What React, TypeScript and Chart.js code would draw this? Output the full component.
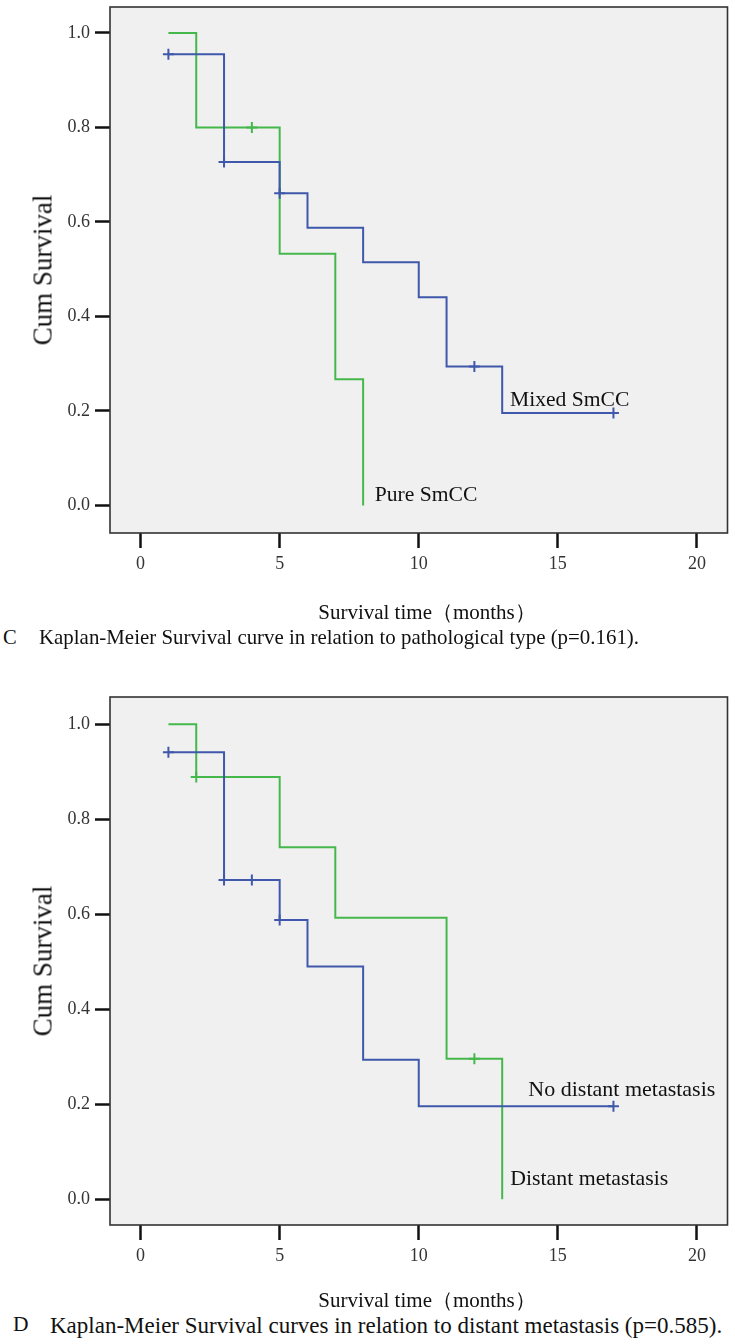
import React, { useEffect, useRef } from "react";
import { Chart, registerables } from "chart.js";

Chart.register(...registerables);

// ---------- shared axis values ----------
const X_TICKS = [0, 5, 10, 15, 20];
const Y_TICKS = [0, 0.2, 0.4, 0.6, 0.8, 1.0];
const X_MIN = -1.1;
const X_MAX = 21.1;

// ---------- Panel C: pathological type ----------
const C_MIXED_TIME = [1, 3, 5, 6, 8, 10, 11, 13, 17];
const C_MIXED_SURV = [0.955, 0.727, 0.661, 0.588, 0.515, 0.441, 0.294, 0.196, 0.196];
const C_MIXED_CENS_TIME = [1, 3, 5, 12, 17];
const C_MIXED_CENS_SURV = [0.955, 0.727, 0.661, 0.294, 0.196];

const C_PURE_TIME = [1, 2, 5, 7, 8];
const C_PURE_SURV = [1.0, 0.8, 0.533, 0.267, 0.0];
const C_PURE_CENS_TIME = [4];
const C_PURE_CENS_SURV = [0.8];

// ---------- Panel D: distant metastasis ----------
const D_NO_TIME = [1, 3, 5, 6, 8, 10, 17];
const D_NO_SURV = [0.941, 0.672, 0.588, 0.49, 0.294, 0.196, 0.196];
const D_NO_CENS_TIME = [1, 3, 4, 5, 17];
const D_NO_CENS_SURV = [0.941, 0.672, 0.672, 0.588, 0.196];

const D_DIST_TIME = [1, 2, 5, 7, 11, 13];
const D_DIST_SURV = [1.0, 0.889, 0.741, 0.593, 0.296, 0.0];
const D_DIST_CENS_TIME = [2, 12];
const D_DIST_CENS_SURV = [0.889, 0.296];

// ---------- text ----------
const Y_TITLE = "Cum Survival";
const X_TITLE = "Survival time（months）";
const C_LETTER = "C";
const C_CAPTION = "Kaplan-Meier Survival curve in relation to pathological type (p=0.161).";
const D_LETTER = "D";
const D_CAPTION = "Kaplan-Meier Survival curves in relation to distant metastasis (p=0.585).";

const BLUE = "#3F58AB";
const GREEN = "#45B84B";
const SERIF = '"Liberation Serif", "Times New Roman", serif';

type Series = { time: number[]; surv: number[]; censT: number[]; censS: number[]; color: string };
type InlineLabel = { text: string; x: number; y: number; size: number };

type PanelProps = {
  series: Series[];
  labels: InlineLabel[];
  canvasTop: number;
  boxTop: number;
  boxBottom: number;
  y1px: number;
  y0px: number;
};

const BOX_LEFT = 110;
const BOX_RIGHT = 731;
const PAGE_W = 735;
const X_AXIS_H = 67;

function KMPanel({ series, labels, canvasTop, boxTop, boxBottom, y1px, y0px }: PanelProps) {
  const ref = useRef<HTMLCanvasElement | null>(null);
  const height = boxBottom - canvasTop + X_AXIS_H;

  useEffect(() => {
    if (!ref.current) return;
    const unit = y0px - y1px;
    const yMax = 1 + (y1px - boxTop) / unit;
    const yMin = -(boxBottom - y0px) / unit;

    const datasets: any[] = [];
    series.forEach((s) => {
      datasets.push({
        type: "line",
        data: s.time.map((t, i) => ({ x: t, y: s.surv[i] })),
        borderColor: s.color,
        borderWidth: 2,
        stepped: "before",
        pointRadius: 0,
        fill: false,
      });
      datasets.push({
        type: "line",
        data: s.censT.map((t, i) => ({ x: t, y: s.censS[i] })),
        showLine: false,
        pointStyle: "cross",
        pointRadius: 5.5,
        pointBorderWidth: 2,
        pointBorderColor: s.color,
        pointBackgroundColor: s.color,
      });
    });

    const boxPlugin = {
      id: "box",
      beforeDraw(chart: any) {
        const { ctx, chartArea: a } = chart;
        ctx.save();
        ctx.fillStyle = "#F0F0F0";
        ctx.fillRect(a.left, a.top, a.right - a.left, a.bottom - a.top);
        ctx.restore();
      },
      afterDraw(chart: any) {
        const { ctx, chartArea: a, scales } = chart;
        ctx.save();
        ctx.strokeStyle = "#333";
        ctx.lineWidth = 1.6;
        ctx.strokeRect(a.left, a.top, a.right - a.left, a.bottom - a.top);
        ctx.fillStyle = "#111";
        ctx.textAlign = "left";
        ctx.textBaseline = "middle";
        labels.forEach((l) => {
          ctx.font = `${l.size}px ${SERIF}`;
          ctx.fillText(l.text, scales.x.getPixelForValue(l.x), scales.y.getPixelForValue(l.y));
        });
        ctx.restore();
      },
    };

    const tickFont = { family: SERIF, size: 18 };
    const chart = new Chart(ref.current, {
      type: "line",
      data: { datasets },
      options: {
        animation: false,
        responsive: false,
        maintainAspectRatio: false,
        layout: { padding: { top: boxTop - canvasTop, right: PAGE_W - BOX_RIGHT, left: 0, bottom: 0 } },
        plugins: { legend: { display: false }, tooltip: { enabled: false } },
        scales: {
          x: {
            type: "linear",
            min: X_MIN,
            max: X_MAX,
            afterFit: (s: any) => {
              s.height = X_AXIS_H;
            },
            afterBuildTicks: (s: any) => {
              s.ticks = X_TICKS.map((v) => ({ value: v }));
            },
            grid: { drawOnChartArea: false, drawTicks: true, tickLength: 15, tickColor: "#111", tickWidth: 2.5 },
            border: { display: false },
            ticks: {
              padding: 5,
              font: tickFont,
              color: "#333",
              maxRotation: 0,
              autoSkip: false,
              callback: (v: any) => String(v),
            },
          },
          y: {
            type: "linear",
            min: yMin,
            max: yMax,
            afterFit: (s: any) => {
              s.width = BOX_LEFT;
            },
            afterBuildTicks: (s: any) => {
              s.ticks = Y_TICKS.map((v) => ({ value: v }));
            },
            grid: { drawOnChartArea: false, drawTicks: true, tickLength: 15, tickColor: "#111", tickWidth: 2.5 },
            border: { display: false },
            ticks: {
              padding: 5,
              font: tickFont,
              color: "#333",
              autoSkip: false,
              callback: (v: any) => Number(v).toFixed(1),
            },
          },
        },
      } as any,
      plugins: [boxPlugin],
    });
    return () => chart.destroy();
  }, []);

  return (
    <canvas
      ref={ref}
      width={PAGE_W}
      height={height}
      style={{ position: "absolute", left: 0, top: canvasTop, width: PAGE_W, height }}
    />
  );
}

function Text({ x, y, size, children, anchor = "left", rotate = false }: any) {
  const style: any = {
    position: "absolute",
    left: x,
    top: y,
    fontFamily: SERIF,
    fontSize: size,
    lineHeight: 1,
    color: "#111",
    whiteSpace: "nowrap",
  };
  if (rotate) {
    style.transform = "translate(-50%, -50%) rotate(-90deg)";
  } else if (anchor === "center") {
    style.transform = "translate(-50%, -50%)";
  } else {
    style.transform = "translate(0, -50%)";
  }
  return <div style={style}>{children}</div>;
}

export default function App() {
  useEffect(() => {
    document.body.style.margin = "0";
    document.body.style.background = "#fff";
  }, []);

  const cSeries: Series[] = [
    { time: C_MIXED_TIME, surv: C_MIXED_SURV, censT: C_MIXED_CENS_TIME, censS: C_MIXED_CENS_SURV, color: BLUE },
    { time: C_PURE_TIME, surv: C_PURE_SURV, censT: C_PURE_CENS_TIME, censS: C_PURE_CENS_SURV, color: GREEN },
  ];
  const dSeries: Series[] = [
    { time: D_NO_TIME, surv: D_NO_SURV, censT: D_NO_CENS_TIME, censS: D_NO_CENS_SURV, color: BLUE },
    { time: D_DIST_TIME, surv: D_DIST_SURV, censT: D_DIST_CENS_TIME, censS: D_DIST_CENS_SURV, color: GREEN },
  ];

  return (
    <div style={{ position: "relative", width: PAGE_W, height: 1344, overflow: "hidden", background: "#fff" }}>
      <KMPanel
        series={cSeries}
        labels={[
          { text: "Mixed SmCC", x: 13.28, y: 0.222, size: 21.6 },
          { text: "Pure SmCC", x: 8.42, y: 0.022, size: 21.6 },
        ]}
        canvasTop={-20}
        boxTop={7}
        boxBottom={533}
        y1px={33}
        y0px={505.5}
      />
      <Text x={43} y={270} size={27} rotate>
        {Y_TITLE}
      </Text>
      <Text x={427} y={612} size={21} anchor="center">
        {X_TITLE}
      </Text>
      <Text x={3} y={637} size={20.5}>
        {C_LETTER}
      </Text>
      <Text x={39} y={637} size={20.9}>
        {C_CAPTION}
      </Text>

      <KMPanel
        series={dSeries}
        labels={[
          { text: "No distant metastasis", x: 13.94, y: 0.23, size: 22 },
          { text: "Distant metastasis", x: 13.29, y: 0.043, size: 21.8 },
        ]}
        canvasTop={670}
        boxTop={697}
        boxBottom={1225}
        y1px={724.3}
        y0px={1199.3}
      />
      <Text x={43} y={961} size={27} rotate>
        {Y_TITLE}
      </Text>
      <Text x={427} y={1300} size={21} anchor="center">
        {X_TITLE}
      </Text>
      <Text x={13} y={1325} size={21.5}>
        {D_LETTER}
      </Text>
      <Text x={50} y={1325} size={23}>
        {D_CAPTION}
      </Text>
    </div>
  );
}
